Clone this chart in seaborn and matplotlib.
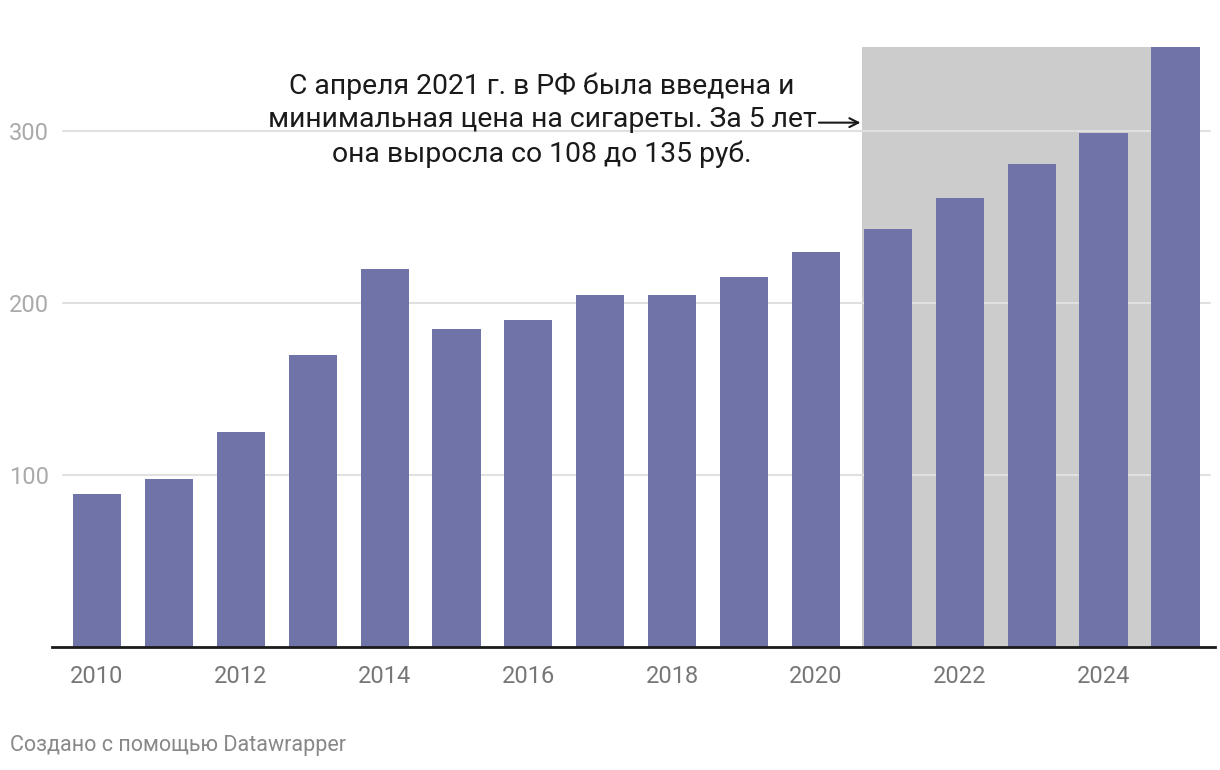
import matplotlib
matplotlib.use("Agg")
import matplotlib.pyplot as plt
import seaborn as sns
import pandas as pd

# Data (prices, rub.)
years = list(range(2010, 2026))
prices = [89, 98, 125, 170, 220, 185, 190, 205, 205, 215, 230, 243, 261, 281, 299, 349]
tick_years = [2010, 2012, 2014, 2016, 2018, 2020, 2022, 2024]
y_ticks = [100, 200, 300]
note = ("С апреля 2021 г. в РФ была введена и\n"
        "минимальная цена на сигареты. За 5 лет\n"
        "она выросла со 108 до 135 руб.")
footer = "Создано с помощью Datawrapper"

df = pd.DataFrame({"year": years, "price": prices})

sns.set_style("white")
plt.rcParams["font.family"] = ["Roboto", "DejaVu Sans"]

fig = plt.figure(figsize=(12.2, 7.7), dpi=100)
ax = fig.add_axes([52 / 1220, 1 - 647 / 770, 1163 / 1220, 600 / 770])

# shaded period since 2021
start = years.index(2021)
ax.axvspan(start - 0.36, len(years) - 1 + 0.335, color="#cccccc", lw=0, zorder=0)

for t in y_ticks:
    ax.axhline(t, xmin=0.0095, xmax=0.9957, color="#e0e0e0", lw=1.5, zorder=1)

sns.barplot(data=df, x="year", y="price", color="#7073a8", saturation=1,
            width=0.67, linewidth=0, ax=ax, zorder=2)

ax.set_xlim(-0.626, 15.55)
ax.set_ylim(0, 349)

ax.set_xticks([years.index(y) for y in tick_years])
ax.set_xticklabels([str(y) for y in tick_years], fontsize=17, color="#777777")
ax.set_yticks(y_ticks)
ax.set_yticklabels([str(t) for t in y_ticks], fontsize=17, color="#aaaaaa")
ax.tick_params(axis="x", length=0, pad=13)
ax.tick_params(axis="y", length=0, pad=2)
ax.set_xlabel("")
ax.set_ylabel("")

for s in ["top", "right", "left"]:
    ax.spines[s].set_visible(False)
ax.spines["bottom"].set_color("#1a1a1a")
ax.spines["bottom"].set_linewidth(2)
ax.spines["bottom"].set_zorder(3)

ax.text(6.19, 306.5, note, ha="center", va="center", fontsize=20.4,
        color="#1a1a1a", linespacing=1.32, zorder=4)
ax.annotate("", xy=(10.62, 305), xytext=(10.04, 305),
            arrowprops=dict(arrowstyle="->", color="#1a1a1a", lw=1.5,
                            shrinkA=0, shrinkB=0, mutation_scale=16))

fig.text(10 / 1220, 1 - 746 / 770, footer, ha="left", va="center",
         fontsize=15.5, color="#888888")

fig.savefig("out.png", dpi=100)
